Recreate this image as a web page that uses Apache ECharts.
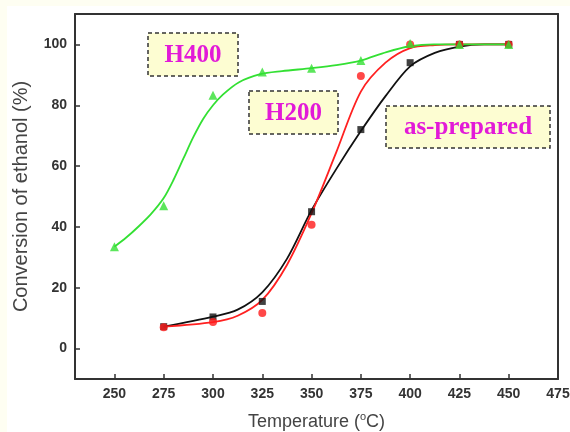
<!DOCTYPE html>
<html>
<head>
<meta charset="utf-8">
<script src="https://cdn.jsdelivr.net/npm/echarts@6/dist/echarts.min.js"></script>
<style>
  html, body { margin: 0; padding: 0; background: #fff; }
  #chart { width: 570px; height: 432px; }
</style>
</head>
<body>
<div id="chart"></div>
<script>
// measured points
const asPrepared = [[275, 7.2], [300, 10.4], [325, 15.5], [350, 45], [375, 72], [400, 94], [425, 100], [450, 100]];
const h200 = [[275, 7], [300, 8.7], [325, 11.7], [350, 40.7], [375, 89.6], [400, 100], [425, 100], [450, 100]];
const h400 = [[250, 33.5], [275, 47], [300, 83.3], [325, 90.9], [350, 92.2], [375, 94.7], [400, 100.3], [425, 100], [450, 100]];

// fitted curves
const asPreparedFit = [[275, 7.2], [300, 10.5], [312.5, 12.8], [325, 18.5], [337.5, 29.5], [350, 45.5], [362.5, 59], [375, 71.5], [387.5, 83], [400, 92.8], [412.5, 97.2], [425, 99.3], [437.5, 100], [450, 100]];
const h200Fit = [[275, 7.2], [300, 8.7], [312.5, 10.8], [325, 16], [337.5, 27.5], [350, 44.5], [362.5, 64.5], [375, 84.5], [387.5, 94], [400, 98.8], [412.5, 99.8], [425, 100], [450, 100]];
const h400Fit = [[250, 33.5], [256, 36.5], [262.5, 40.3], [268.5, 44.2], [275, 49.5], [280, 55.5], [285, 62.5], [290, 69.5], [295, 75.5], [300, 80], [305, 83.5], [313, 87.5], [324, 90.2], [335, 91.2], [350, 92.2], [362.5, 93.2], [375, 94.7], [388, 97.5], [400, 99.4], [412, 100], [425, 100], [450, 100]];

const xTicks = [250, 275, 300, 325, 350, 375, 400, 425, 450, 475];
const yTicks = [0, 20, 40, 60, 80, 100];

const labels = [
  {text: 'H400', x: 148, y: 33, w: 90, h: 43},
  {text: 'H200', x: 249, y: 91, w: 89, h: 43},
  {text: 'as-prepared', x: 386, y: 106, w: 164, h: 42}
];

const chart = echarts.init(document.getElementById('chart'));

const fitLine = (data, color) => ({
  type: 'line',
  data: data,
  smooth: 0.3,
  showSymbol: false,
  symbol: 'none',
  lineStyle: {color: color, width: 1.8},
  silent: true,
  z: 2
});
const dots = (data, symbol, size, color) => ({
  type: 'scatter',
  data: data,
  symbol: symbol,
  symbolSize: size,
  itemStyle: {color: color},
  z: 3
});

const boxes = [];
labels.forEach(l => {
  boxes.push({
    type: 'rect',
    shape: {x: l.x, y: l.y, width: l.w, height: l.h},
    style: {fill: '#fdfdd2', stroke: '#333', lineWidth: 1.5, lineDash: [4, 3]},
    z: 10
  });
  boxes.push({
    type: 'text',
    x: l.x + l.w / 2,
    y: l.y + l.h / 2 + 1,
    style: {
      text: l.text, fill: '#e21ad8', align: 'center', verticalAlign: 'middle',
      font: 'bold 25px "Liberation Serif", "DejaVu Serif", serif'
    },
    z: 11
  });
});

chart.setOption({
  backgroundColor: '#fff',
  animation: false,
  grid: {left: 75, right: 12, top: 14, bottom: 53, show: false, outerBoundsMode: 'none', containLabel: false},
  graphic: [
    {type: 'rect', shape: {x: 0, y: 0, width: 570, height: 6}, style: {fill: '#fefef2'}, z: 0},
    {type: 'rect', shape: {x: 0, y: 0, width: 7, height: 432}, style: {fill: '#fefef2'}, z: 0}
  ].concat(boxes),
  xAxis: [{
    type: 'value',
    min: 230,
    max: 475,
    name: 'Temperature ({s|o}C)',
    nameLocation: 'middle',
    nameGap: 32,
    nameTextStyle: {
      fontFamily: 'Liberation Sans, Arial, sans-serif', fontSize: 18, color: '#444',
      rich: {s: {fontSize: 11, color: '#444', verticalAlign: 'top', padding: [0, 0, 12, 0]}}
    },
    axisLine: {onZero: false, lineStyle: {color: '#333', width: 2}},
    axisTick: {show: true, inside: true, length: 5, customValues: xTicks, lineStyle: {color: '#333', width: 1.5}},
    axisLabel: {customValues: xTicks, margin: 8, color: '#333', fontSize: 14, fontWeight: 'bold', fontFamily: 'Liberation Sans, Arial, sans-serif'},
    splitLine: {show: false}
  }, {
    type: 'value', position: 'top', min: 230, max: 475,
    axisLine: {show: true, onZero: false, lineStyle: {color: '#333', width: 2}},
    axisTick: {show: false}, axisLabel: {show: false}, splitLine: {show: false}
  }],
  yAxis: [{
    type: 'value',
    min: -10,
    max: 110,
    name: 'Conversion of ethanol (%)',
    nameLocation: 'middle',
    nameGap: 44,
    nameTextStyle: {fontFamily: 'Liberation Sans, Arial, sans-serif', fontSize: 20, color: '#444'},
    axisLine: {onZero: false, lineStyle: {color: '#333', width: 2}},
    axisTick: {show: true, inside: true, length: 5, customValues: yTicks, lineStyle: {color: '#333', width: 1.5}},
    axisLabel: {customValues: yTicks, margin: 8, color: '#333', fontSize: 14, fontWeight: 'bold', fontFamily: 'Liberation Sans, Arial, sans-serif'},
    splitLine: {show: false}
  }, {
    type: 'value', position: 'right', min: -10, max: 110,
    axisLine: {show: true, onZero: false, lineStyle: {color: '#333', width: 2}},
    axisTick: {show: false}, axisLabel: {show: false}, splitLine: {show: false}
  }],
  series: [
    fitLine(asPreparedFit, '#111'),
    fitLine(h200Fit, '#ff2020'),
    fitLine(h400Fit, '#33e033'),
    dots(asPrepared, 'rect', 7, '#111'),
    dots(h200, 'circle', 8, '#ff1a1a'),
    dots(h400, 'triangle', 9, '#33e033')
  ]
});
</script>
</body>
</html>
